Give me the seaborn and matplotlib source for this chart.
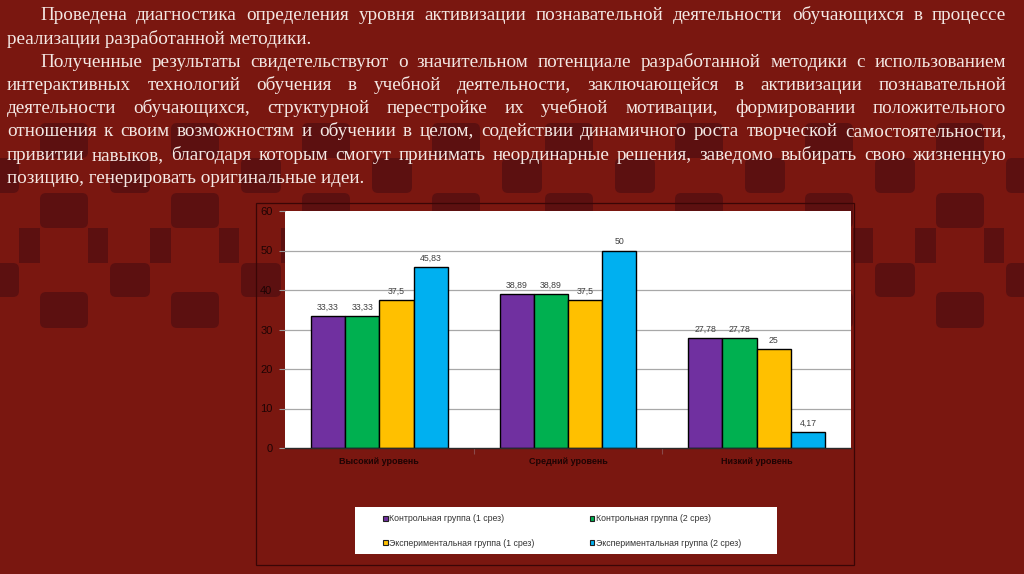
import matplotlib
matplotlib.use("Agg")
import matplotlib.pyplot as plt
from matplotlib.patches import Rectangle, FancyBboxPatch, Patch
import pandas as pd
import seaborn as sns

# ---------------- data ----------------
categories = ["Высокий уровень", "Средний уровень", "Низкий уровень"]
series_names = ["Контрольная группа (1 срез)", "Контрольная группа (2 срез)",
                "Экспериментальная группа (1 срез)", "Экспериментальная группа (2 срез)"]
control_1 = [33.33, 38.89, 27.78]
control_2 = [33.33, 38.89, 27.78]
experimental_1 = [37.5, 37.5, 25]
experimental_2 = [45.83, 50, 4.17]
y_ticks = [0, 10, 20, 30, 40, 50, 60]
colors = ["#7030A0", "#00B050", "#FFC000", "#00B0F0"]

paragraph_1 = [
    "Проведена диагностика определения уровня активизации познавательной деятельности обучающихся в процессе",
    "реализации разработанной методики.",
]
paragraph_2 = [
    "Полученные результаты свидетельствуют о значительном потенциале разработанной методики с использованием",
    "интерактивных технологий обучения в учебной деятельности, заключающейся в активизации познавательной",
    "деятельности обучающихся, структурной перестройке их учебной мотивации, формировании положительного",
    "отношения к своим возможностям и обучении в целом, содействии динамичного роста творческой самостоятельности,",
    "привитии навыков, благодаря которым смогут принимать неординарные решения, заведомо выбирать свою жизненную",
    "позицию, генерировать оригинальные идеи.",
]

values = [control_1, control_2, experimental_1, experimental_2]
df = pd.DataFrame({
    "category": [c for _ in series_names for c in categories],
    "series": [s for s in series_names for _ in categories],
    "value": [v for vals in values for v in vals],
})

plt.rcParams["font.family"] = ["Liberation Sans", "DejaVu Sans"]

W, H = 1024, 574
fig = plt.figure(figsize=(W / 100, H / 100), dpi=100)
fig.patch.set_facecolor("#7A1710")

# ---------------- background (pixel coordinates) ----------------
bg = fig.add_axes([0, 0, 1, 1], zorder=0)
bg.set_xlim(0, W)
bg.set_ylim(H, 0)
bg.axis("off")
bg.add_patch(Rectangle((0, 0), W, H, facecolor="#7A1710", edgecolor="none"))

dark = "#5C1010"
a_x = [40, 171, 302, 432, 545, 675, 805, 936]
a_rows = [(123, 158), (193, 228), (292, 328)]
b_rows = [(158, 193), (263, 297)]
c_rows = [(228, 263)]

def block(x, y0, y1, w, r=6):
    bg.add_patch(FancyBboxPatch((x, y0), w, y1 - y0,
                                boxstyle=f"round,pad=0,rounding_size={r}",
                                facecolor=dark, edgecolor="none"))

for ax_ in a_x:
    for (y0, y1) in a_rows:
        block(ax_, y0, y1, 48)
    for (y0, y1) in b_rows:
        block(ax_ + 70, y0, y1, 40)
        if ax_ == a_x[0]:
            block(ax_ - 61, y0, y1, 40)
    for (y0, y1) in c_rows:
        bg.add_patch(Rectangle((ax_ - 21, y0), 21, y1 - y0, facecolor=dark, edgecolor="none"))
        bg.add_patch(Rectangle((ax_ + 48, y0), 20, y1 - y0, facecolor=dark, edgecolor="none"))

# chart frame and legend box
bg.add_patch(Rectangle((255.5, 202.5), 598, 362, facecolor="none", edgecolor="#3A0606", lw=0.9))
bg.add_patch(Rectangle((355, 507), 422, 47, facecolor="white", edgecolor="none"))

# ---------------- justified text ----------------
renderer = fig.canvas.get_renderer()
serif = "Liberation Serif"
text_color = "#F4E8E4"

def text_width(s, size):
    t = bg.text(0, 0, s, fontsize=size, family=serif)
    w = t.get_window_extent(renderer).width
    t.remove()
    return w

left, indent, right = 7, 40, 1006
size = 10 * 307 / text_width("реализации разработанной методики.", 10)

lines = []
for para in (paragraph_1, paragraph_2):
    for i, ln in enumerate(para):
        lines.append((ln, i == 0, i == len(para) - 1))

# make sure every justified line fits
for ln, first, last in lines:
    if last:
        continue
    x0 = indent if first else left
    nat = text_width(ln, size)
    if nat > (right - x0) - 2:
        size *= (right - x0 - 2) / nat

base0, step = 20.5, 23.2
for k, (ln, first, last) in enumerate(lines):
    y = base0 + k * step
    x0 = indent if first else left
    if last:
        bg.text(x0, y, ln, fontsize=size, family=serif, color=text_color, va="baseline", ha="left")
        continue
    words = ln.split(" ")
    widths = [text_width(w, size) for w in words]
    gap = (right - x0 - sum(widths)) / (len(words) - 1)
    x = x0
    for w, wd in zip(words, widths):
        bg.text(x, y, w, fontsize=size, family=serif, color=text_color, va="baseline", ha="left")
        x += wd + gap

# ---------------- bar chart ----------------
ax = fig.add_axes([285 / W, 1 - 448 / H, (851 - 285) / W, (448 - 211) / H], zorder=1)
ax.set_facecolor("white")
sns.barplot(data=df, x="category", y="value", hue="series", order=categories,
            hue_order=series_names, palette=colors, saturation=1, width=0.726,
            gap=0, edgecolor="black", linewidth=1, errorbar=None, legend=False, ax=ax)

ax.set_ylim(0, 60)
ax.set_xlim(-0.5, 2.5)
ax.set_yticks(y_ticks)
ax.set_xlabel("")
ax.set_ylabel("")
ax.yaxis.grid(True, color="#A8A8A8", lw=0.9)
ax.set_axisbelow(True)
for gl, t in zip(ax.get_ygridlines(), y_ticks):
    if t in (0, 60):
        gl.set_visible(False)
for s in ("top", "right", "left"):
    ax.spines[s].set_visible(False)
ax.spines["bottom"].set_color("#2A2A2A")
ax.spines["bottom"].set_linewidth(1.0)

ax.tick_params(axis="y", length=4, width=0.8, color="#9A9A9A", pad=5,
               labelsize=8, labelcolor="#1E0404")
ax.tick_params(axis="x", which="major", length=0, pad=6.5, labelsize=6.5, labelcolor="#1E0404")
for lbl in ax.get_xticklabels():
    lbl.set_fontweight("bold")
ax.set_xticks([0.5, 1.5], minor=True)
ax.tick_params(axis="x", which="minor", length=4, width=0.8, color="#8A4A4A")

def fmt(v):
    s = f"{v:.2f}".rstrip("0").rstrip(".")
    return s.replace(".", ",")

for cont, vals in zip(ax.containers, values):
    ax.bar_label(cont, labels=[fmt(v) for v in vals], padding=3, fontsize=6.3, color="#404040")

# ---------------- legend ----------------
handles = [Patch(facecolor=c, edgecolor="#202020", lw=0.8) for c in colors]
order = [0, 2, 1, 3]
leg = fig.legend([handles[i] for i in order], [series_names[i] for i in order], ncol=2,
                 loc="center left", bbox_to_anchor=(383 / W, 1 - 531 / H), frameon=False,
                 fontsize=6.3, handlelength=0.55, handleheight=0.55, handletextpad=0.15,
                 columnspacing=6.3, labelspacing=1.75, borderpad=0, borderaxespad=0)
for t in leg.get_texts():
    t.set_color("#333333")

fig.savefig("out.png", dpi=100, facecolor=fig.get_facecolor())
